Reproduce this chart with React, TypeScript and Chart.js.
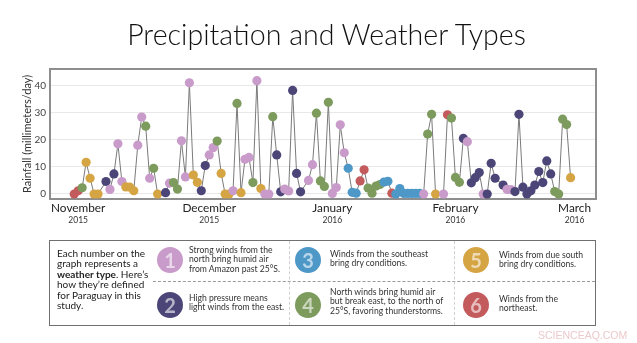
import React, { useEffect, useRef } from "react";
import { Chart, registerables } from "chart.js";
Chart.register(...registerables);

// ---- data ----
const dayIndex = [
  0, 1, 2, 3, 4, 5, 6, 8, 9, 10,
  11, 12, 13, 14, 15, 16, 17, 18, 19, 20,
  21, 23, 24, 25, 26, 27, 28, 29, 30, 31,
  32, 33, 34, 35, 36, 37, 38, 39, 40, 41,
  42, 43, 44, 45, 46, 47, 48, 49, 50, 51,
  52, 53, 54, 55, 56, 57, 59, 60, 61, 62,
  63, 64, 65, 66, 67, 68, 69, 70, 71, 72,
  73, 74, 75, 76, 77, 78, 79, 80, 81, 82,
  83, 84, 85, 86, 87, 88, 89, 90, 91, 93,
  94, 95, 96, 97, 98, 99, 100, 101, 102, 103,
  104, 105, 106, 108, 109, 110, 111, 112, 113, 114,
  115, 116, 117, 118, 119, 120, 121, 122, 123, 124,
  125,
];
const rainfall = [
  0, 1.2, 2.3, 11.7, 5.8, 0, 0, 4.6, 1.7, 7.4,
  18.5, 4.6, 2.6, 2.5, 1.2, 18, 28.4, 25, 5.8, 9.5,
  0, 0.5, 4, 4.2, 1.8, 19.6, 6.3, 41, 7, 4.3,
  1.2, 10.5, 14.4, 17.1, 19.5, 7.6, 0, 0, 1.2, 33.4,
  0.5, 12.8, 13.5, 4.2, 41.8, 2, 0, 0, 28.5, 14.4,
  0.8, 1.8, 1.1, 38.2, 7.6, 0.8, 5, 10.8, 29.8, 4.8,
  2.8, 33.8, 0.2, 2.4, 25.5, 15.2, 9.5, 0.6, 0.3, 4.8,
  8.9, 2.2, 0.3, 2.9, 3.5, 4.4, 4.7, 0.3, 0, 2,
  0.2, 0.2, 0.2, 0.2, 0.2, 0, 22.1, 29.4, 0, 0,
  29.2, 28, 6.1, 4.3, 20.5, 19.3, 4.1, 6, 7.9, 0,
  0, 11.3, 5.8, 3.3, 1.7, 1.6, 0.9, 29.4, 2.5, 0,
  1.2, 3.3, 8.3, 4.2, 12.2, 7.4, 0.9, 0, 27.6, 25.6,
  6,
];
const weatherType = [
  6, 6, 4, 5, 5, 5, 5, 2, 1, 2,
  1, 1, 5, 5, 5, 1, 1, 4, 1, 4,
  5, 2, 1, 4, 4, 1, 1, 1, 5, 5,
  2, 2, 1, 1, 4, 5, 5, 5, 1, 4,
  5, 1, 1, 4, 1, 5, 1, 1, 4, 2,
  2, 1, 1, 2, 2, 2, 1, 1, 4, 4,
  4, 4, 1, 1, 1, 1, 3, 3, 3, 6,
  6, 4, 4, 4, 4, 3, 3, 6, 3, 3,
  3, 3, 3, 3, 3, 1, 4, 4, 5, 1,
  6, 4, 4, 4, 2, 1, 2, 2, 2, 1,
  2, 2, 2, 2, 1, 1, 2, 2, 2, 2,
  2, 2, 2, 2, 2, 2, 4, 4, 4, 4,
  5,
];
const monthTickDays = [1, 34, 65, 96, 126];
const monthLabels = ["November", "December", "January", "February", "March"];
const yearLabels = ["2015", "2015", "2016", "2016", "2016"];
const yTicks = [0, 10, 20, 30, 40];

const typeNumbers = [1, 2, 3, 4, 5, 6];
const typeDescriptions = [
  ["Strong winds from the", "north bring humid air", "from Amazon past 25°S."],
  ["High pressure means", "light winds from the east."],
  ["Winds from the southeast", "bring dry conditions."],
  ["North winds bring humid air", "but break east, to the north of", "25°S, favoring thunderstorms."],
  ["Winds from due south", "bring dry conditions."],
  ["Winds from the", "northeast."],
];

// ---- styles ----
const typeColors: Record<number, string> = {
  1: "#c99bca",
  2: "#4b4677",
  3: "#4e98c8",
  4: "#7c9b5d",
  5: "#d5a443",
  6: "#c35b5d",
};
const FONT = "Lato, 'Open Sans', sans-serif";

const framePlugin = {
  id: "frame",
  beforeDatasetsDraw(chart: any) {
    const { ctx, chartArea } = chart;
    ctx.save();
    ctx.strokeStyle = "#8e8e8e";
    ctx.lineWidth = 2;
    ctx.strokeRect(chartArea.left, chartArea.top, chartArea.right - chartArea.left, chartArea.bottom - chartArea.top);
    ctx.restore();
  },
};

export default function App() {
  const ref = useRef<HTMLCanvasElement | null>(null);

  useEffect(() => {
    const canvas = ref.current;
    if (!canvas) return;
    const chart = new Chart(canvas, {
      type: "line",
      data: {
        datasets: [
          {
            data: dayIndex.map((d, i) => ({ x: d, y: rainfall[i] })),
            borderColor: "#7a7a7a",
            borderWidth: 1,
            pointRadius: 4.6,
            pointHoverRadius: 4.6,
            pointBorderWidth: 0,
            pointBackgroundColor: weatherType.map((t) => typeColors[t]),
            tension: 0,
          },
        ],
      },
      options: {
        responsive: false,
        animation: false,
        devicePixelRatio: 1,
        layout: { padding: { left: 0, right: 41, top: 69, bottom: 116 } },
        plugins: { legend: { display: false }, tooltip: { enabled: false } },
        scales: {
          x: {
            type: "linear",
            position: "bottom",
            weight: 0,
            min: -6.1,
            max: 131.4,
            afterBuildTicks: (s: any) => {
              s.ticks = monthTickDays.map((v) => ({ value: v }));
            },
            afterFit: (s: any) => {
              s.height = 16;
            },
            grid: { display: false, drawTicks: false },
            border: { display: false },
            ticks: {
              autoSkip: false,
              maxRotation: 0,
              padding: 2,
              color: "#222",
              font: { family: FONT, size: 11.8 },
              callback: (_v: any, i: number) => monthLabels[i],
            },
          },
          x2: {
            type: "linear",
            position: "bottom",
            weight: 1,
            min: -6.1,
            max: 131.4,
            afterBuildTicks: (s: any) => {
              s.ticks = monthTickDays.map((v) => ({ value: v }));
            },
            afterFit: (s: any) => {
              s.height = 12;
            },
            grid: { display: false, drawTicks: false },
            border: { display: false },
            ticks: {
              autoSkip: false,
              maxRotation: 0,
              padding: 0,
              color: "#333",
              font: { family: FONT, size: 8.5 },
              callback: (_v: any, i: number) => yearLabels[i],
            },
          },
          y: {
            type: "linear",
            min: -1.85,
            max: 46.1,
            afterBuildTicks: (s: any) => {
              s.ticks = yTicks.map((v) => ({ value: v }));
            },
            afterFit: (s: any) => {
              s.width = 50;
            },
            grid: { color: "#e8e8e8", lineWidth: 1, drawTicks: false },
            border: { display: false },
            ticks: { padding: 4, color: "#444", font: { family: FONT, size: 10 } },
            title: {
              display: true,
              text: "Rainfall (millimeters/day)",
              color: "#333",
              font: { family: FONT, size: 11 },
              padding: { top: 21, bottom: 0 },
            },
          },
        },
      } as any,
      plugins: [framePlugin],
    });
    return () => chart.destroy();
  }, []);

  const circlePos = [
    [170, 259.5],
    [170, 304.5],
    [308, 259.5],
    [308, 304.5],
    [476, 259.5],
    [476, 304.5],
  ];
  const textPos = [
    [189, 246],
    [189, 293.5],
    [330, 249.5],
    [330, 288],
    [499, 251],
    [499, 294.5],
  ];

  return (
    <div
      style={{
        position: "fixed",
        left: 0,
        top: 0,
        width: 637,
        height: 343,
        background: "#fff",
        overflow: "hidden",
        fontFamily: FONT,
      }}
    >
      <canvas ref={ref} width={637} height={343} style={{ position: "absolute", left: 0, top: 0, display: "block" }} />
      <div
        style={{
          position: "absolute",
          left: 0,
          top: 20,
          width: 653,
          textAlign: "center",
          fontSize: 28.6,
          lineHeight: "28px",
          fontWeight: 300,
          color: "#111",
          whiteSpace: "nowrap",
        }}
      >
        Precipitation and Weather Types
      </div>

      {/* legend box */}
      <div
        style={{
          position: "absolute",
          left: 49,
          top: 240,
          width: 547,
          height: 86,
          boxSizing: "border-box",
          border: "1.5px solid #707070",
        }}
      />
      <div style={{ position: "absolute", left: 153, top: 281, width: 442, borderTop: "1px dashed #9a9a9a" }} />
      <div style={{ position: "absolute", left: 289, top: 241, height: 84, borderLeft: "1px dashed #cfcfcf" }} />
      <div style={{ position: "absolute", left: 454, top: 241, height: 84, borderLeft: "1px dashed #cfcfcf" }} />

      <div
        style={{
          position: "absolute",
          left: 57,
          top: 247.5,
          fontSize: 10,
          lineHeight: "10.5px",
          color: "#222",
          whiteSpace: "nowrap",
        }}
      >
        Each number on the
        <br />
        graph represents a
        <br />
        <b>weather type</b>. Here’s
        <br />
        how they’re defined
        <br />
        for Paraguay in this
        <br />
        study.
      </div>

      {typeNumbers.map((n, i) => (
        <div
          key={"c" + n}
          style={{
            position: "absolute",
            left: circlePos[i][0] - 13,
            top: circlePos[i][1] - 13,
            width: 26,
            height: 26,
            borderRadius: "50%",
            background: typeColors[n],
            color: "rgba(255,255,255,0.6)",
            fontWeight: 700,
            fontSize: 20,
            lineHeight: "26px",
            textAlign: "center",
          }}
        >
          {n}
        </div>
      ))}
      {typeDescriptions.map((lines, i) => (
        <div
          key={"t" + i}
          style={{
            position: "absolute",
            left: textPos[i][0],
            top: textPos[i][1],
            fontSize: 8.6,
            lineHeight: "9.4px",
            color: "#333",
            whiteSpace: "nowrap",
          }}
        >
          {lines.map((l, j) => (
            <div key={j}>{l}</div>
          ))}
        </div>
      ))}

      <div
        style={{
          position: "absolute",
          left: 538,
          top: 329,
          fontSize: 10.5,
          color: "#ebc9cc",
          fontFamily: "'Liberation Sans', Arial, sans-serif",
          whiteSpace: "nowrap",
        }}
      >
        SCIENCEAQ.COM
      </div>
    </div>
  );
}
